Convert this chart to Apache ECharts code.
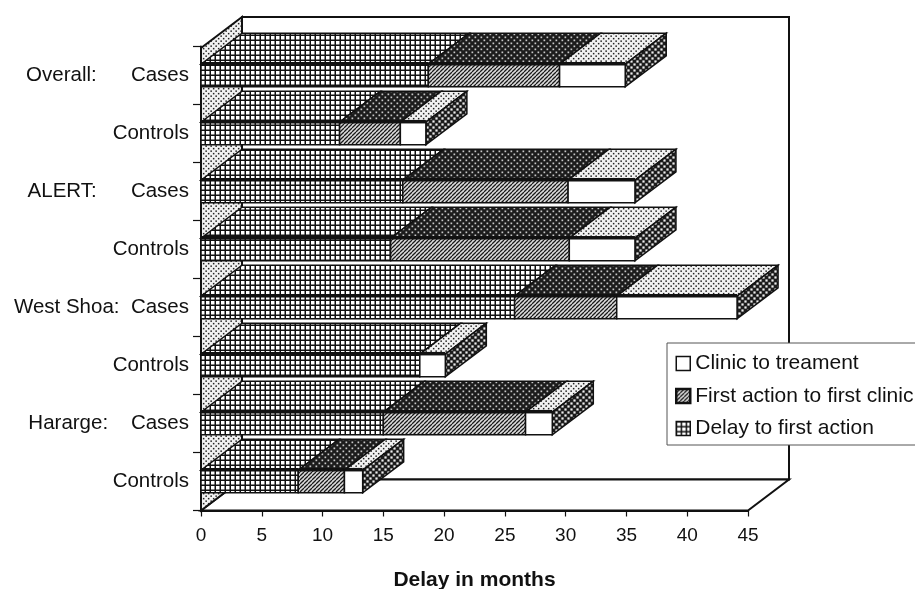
<!DOCTYPE html>
<html><head><meta charset="utf-8">
<style>html,body{margin:0;padding:0;background:#fff;overflow:hidden}#c{width:915px;height:589px;filter:blur(0.4px)}</style>
<script src="https://cdn.jsdelivr.net/npm/echarts@6/dist/echarts.min.js"></script>
</head><body><div id="c"></div>
<script>
const categories = ['Overall:      Cases','Controls','ALERT:      Cases','Controls','West Shoa:  Cases','Controls','Hararge:    Cases','Controls'];
const delayToFirstAction = [18.7,11.4,16.6,15.6,25.8,18.0,15.0,8.0];
const firstActionToFirstClinic = [10.8,5.0,13.6,14.7,8.4,0,11.7,3.8];
const clinicToTreatment = [5.4,2.1,5.5,5.4,9.9,2.1,2.2,1.5];
const xTicks = {min:0,max:45,interval:5};
const INK = '#111';
const DX = 41, DY = 31;

function tile(w,h,draw){const c=document.createElement('canvas');c.width=w;c.height=h;const g=c.getContext('2d');draw(g);return {image:c,repeat:'repeat'};}
const gridPat = tile(10,10,g=>{g.fillStyle=INK;g.fillRect(0,0,10,10);g.fillStyle='#fff';for(const x of [1,6])for(const y of [1,6])g.fillRect(x,y,3.5,3.5);});
const hatchPat = tile(4,4,g=>{g.fillStyle='#dcdcdc';g.fillRect(0,0,4,4);g.strokeStyle='#1a1a1a';g.lineWidth=1.25;for(const o of [-4,0,4]){g.beginPath();g.moveTo(o,4);g.lineTo(o+4,0);g.stroke();}});
const darkPat = tile(6,6,g=>{g.fillStyle='#1c1c1c';g.fillRect(0,0,6,6);g.fillStyle='#c8c8c8';g.fillRect(0.5,0.5,1.7,1.7);g.fillRect(3.5,3.5,1.7,1.7);});
const sidePat = tile(6,6,g=>{g.fillStyle='#1c1c1c';g.fillRect(0,0,6,6);g.fillStyle='#eee';g.fillRect(0.4,0.4,2.2,2.2);g.fillRect(3.4,3.4,2.2,2.2);});
const lightPat = tile(5,5,g=>{g.fillStyle='#f2f2f2';g.fillRect(0,0,5,5);g.fillStyle='#222';g.fillRect(0.4,0.4,1.5,1.5);g.fillRect(2.9,2.9,1.5,1.5);});

function segments(){ // [start,end,categoryIndex] built from the three value arrays
  const a=[],b=[],c=[];
  categories.forEach((_,i)=>{
    const s1=delayToFirstAction[i], s2=s1+firstActionToFirstClinic[i], s3=s2+clinicToTreatment[i];
    a.push([0,s1,i]);b.push([s1,s2,i]);c.push([s2,s3,i]);
  });
  return [a,b,c];
}
const [segA,segB,segC]=segments();

function poly(points,fill,lw){return {type:'polygon',shape:{points},style:{fill,stroke:INK,lineWidth:lw==null?1.5:lw}};}
function barRender(frontFill,topFill,withEnd){
  return function(params,api){
    const h=api.size([0,1])[1]*0.39;
    const p0=api.coord([api.value(0),api.value(2)]);
    const p1=api.coord([api.value(1),api.value(2)]);
    const x0=p0[0],x1=p1[0],t=p0[1]-h/2,b=p0[1]+h/2;
    const ch=[];
    ch.push(poly([[x0,t],[x1,t],[x1+DX,t-DY],[x0+DX,t-DY]],topFill));
    if(withEnd) ch.push(poly([[x1,t],[x1+DX,t-DY],[x1+DX,b-DY],[x1,b]],sidePat));
    ch.push(poly([[x0,t],[x1,t],[x1,b],[x0,b]],frontFill));
    ch.push({type:'line',shape:{x1:x0,y1:t-0.5,x2:x1,y2:t-0.5},style:{stroke:INK,lineWidth:3.5}});
    return {type:'group',children:ch};
  };
}
function sceneRender(params,api){
  const r=params.coordSys;
  const l=r.x,rt=r.x+r.width,tp=r.y+1.5,bt=r.y+r.height;
  return {type:'group',children:[
    poly([[l+DX,tp-DY],[rt+DX,tp-DY],[rt+DX,bt-DY],[l+DX,bt-DY]],'#fff',2),
    poly([[l,bt],[rt,bt],[rt+DX,bt-DY],[l+DX,bt-DY]],'#fff',2),
    poly([[l,tp],[l+DX,tp-DY],[l+DX,bt-DY],[l,bt]],lightPat,2)
  ]};
}
const textBase={color:'#111',fontFamily:'"Liberation Sans",Arial,sans-serif',fontSize:20.5};
const names=['Delay to first action','First action to first clinic','Clinic to treament'];
const chart=echarts.init(document.getElementById('c'),null,{renderer:'canvas'});
chart.setOption({
  animation:false,
  backgroundColor:'#fff',
  grid:{left:201,top:46.5,width:547,height:464,containLabel:false,outerBoundsMode:'none'},
  legend:{
    orient:'vertical',left:667,top:343,padding:[10,30,6,8],itemWidth:14,itemHeight:14,itemGap:11.5,
    backgroundColor:'#fff',borderColor:'#555',borderWidth:1,selectedMode:false,icon:'rect',
    textStyle:{...textBase,fontSize:21},
    data:[
      {name:names[2],itemStyle:{color:'#fff',borderColor:INK,borderWidth:1.5}},
      {name:names[1],itemStyle:{color:hatchPat,borderColor:INK,borderWidth:2.5}},
      {name:names[0],itemStyle:{color:gridPat,borderColor:INK,borderWidth:1.5}}
    ]
  },
  xAxis:{type:'value',...xTicks,splitLine:{show:false},
    axisLine:{show:true,onZero:false,lineStyle:{color:INK,width:2}},
    axisTick:{show:true,length:6,lineStyle:{color:INK,width:1.2}},
    axisLabel:{...textBase,fontSize:19,margin:16,showMinLabel:true,showMaxLabel:true},
    name:'Delay in months',nameLocation:'middle',nameGap:59,
    nameTextStyle:{...textBase,fontWeight:'bold',fontSize:21}},
  yAxis:{type:'category',inverse:true,data:categories,position:'left',
     axisLine:{show:true,lineStyle:{color:INK,width:2}},
     axisTick:{show:true,length:8,alignWithLabel:false,lineStyle:{color:INK,width:1.2}},
     axisLabel:{...textBase,margin:12,interval:0},splitLine:{show:false}},
  series:[
    {type:'custom',silent:true,data:[[0,0,0]],renderItem:sceneRender,z:1,encode:{x:0,y:2}},
    {type:'custom',name:names[0],data:segA,encode:{x:[0,1],y:2},itemStyle:{color:gridPat},z:2,renderItem:barRender(gridPat,gridPat,false)},
    {type:'custom',name:names[1],data:segB,encode:{x:[0,1],y:2},itemStyle:{color:hatchPat},z:3,renderItem:barRender(hatchPat,darkPat,false)},
    {type:'custom',name:names[2],data:segC,encode:{x:[0,1],y:2},itemStyle:{color:'#fff'},z:4,renderItem:barRender('#fff',lightPat,true)}
  ]
});
</script></body></html>
